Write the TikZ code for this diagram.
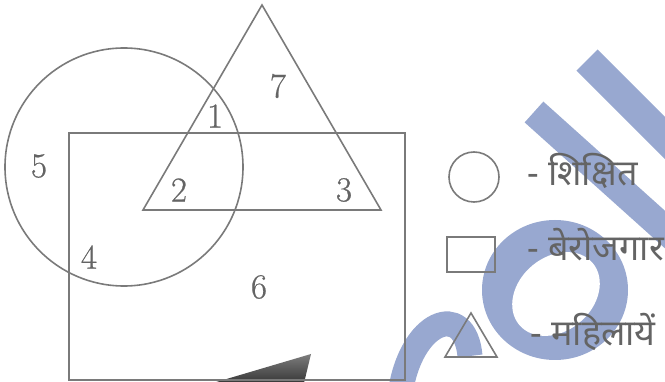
\documentclass[tikz,border=0pt]{standalone}
\usepackage{fontspec}
\newfontfamily\deva[Script=Devanagari]{Noto Sans}
\newfontfamily\numfont[FakeBold=0.6]{Latin Modern Roman}
\definecolor{wm}{RGB}{152,168,208}
\definecolor{ln}{RGB}{122,122,122}
\definecolor{tx}{RGB}{100,100,100}
\begin{document}
\begin{tikzpicture}[x=1pt,y=-1pt,
  shapeline/.style={draw=ln, line width=1.6pt},
  boxline/.style={draw=ln, line width=2.2pt},
  num/.style={text=tx, font=\numfont\fontsize{35}{35}\selectfont, inner sep=0pt},
  legtext/.style={text=tx, font=\deva\fontsize{36}{36}\selectfont, anchor=base west, inner sep=0pt}]
\useasboundingbox (0,0) rectangle (665,382);
% watermark
\begin{scope}
\clip (0,0) rectangle (665,382);
\draw[wm, line width=30pt] (587,60) -- (720,193);
\draw[wm, line width=28pt] (534,112) -- (700,261);
\fill[wm] (555,290) ellipse (73 and 70);
\fill[white, rotate around={40:(556,294)}] (556,294) ellipse (48 and 37);
\draw[wm, line width=25pt] (400,395) .. controls (410,320) and (465,300) .. (470,356);
\shade[top color={rgb,255:red,125;green,125;blue,125}, bottom color={rgb,255:red,55;green,55;blue,55}] (213,383) -- (311,354) -- (304,383) -- cycle;
\end{scope}
% main diagram
\draw[shapeline] (124,167) circle (119);
\draw[shapeline] (262,5) -- (381,210) -- (143,210) -- cycle;
\draw[boxline] (69,133) rectangle (405,380);
\node[num] (n7) at (278,86) {7};
\node[num] (n1) at (215,116) {1};
\node[num] (n5) at (39,166) {5};
\node[num] (n2) at (179,190) {2};
\node[num] (n3) at (344,190) {3};
\node[num] (n4) at (89,257) {4};
\node[num] (n6) at (259,287) {6};
% legend
\draw[shapeline] (474,177) circle (25);
\draw[shapeline] (447,237) rectangle (495,272);
\draw[shapeline] (445,357) -- (471,313) -- (497,357) -- cycle;
\node[legtext] (l1) at (527,186) {- शिक्षित};
\node[legtext] (l2) at (527,261) {- बेरोजगार};
\node[legtext] (l3) at (530,346) {- महिलायें};
\end{tikzpicture}
\end{document}
